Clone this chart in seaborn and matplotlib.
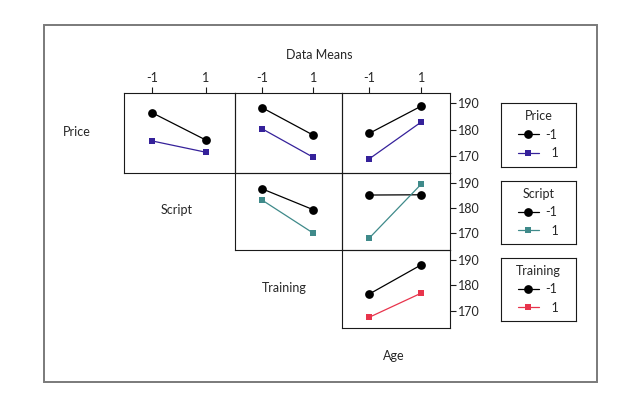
import matplotlib
matplotlib.use("Agg")
import matplotlib.pyplot as plt
import seaborn as sns
import pandas as pd
from matplotlib.lines import Line2D
from matplotlib.patches import Rectangle

sns.set_theme(style="white")
plt.rcParams['font.family'] = ['Lato', 'DejaVu Sans']
plt.rcParams['font.size'] = 9

# ---------------- data ----------------
factors = ["Price", "Script", "Training", "Age"]
levels = [-1, 1]
level_labels = ["-1", "1"]
yticks = [170, 180, 190]

# row factor at level -1 / 1, plotted across the column factor's levels (-1, 1)
price_lo_by_script = [186.4, 176.0]
price_hi_by_script = [175.6, 171.3]
price_lo_by_training = [188.4, 177.8]
price_hi_by_training = [180.3, 169.3]
price_lo_by_age = [178.5, 189.0]
price_hi_by_age = [168.7, 182.9]
script_lo_by_training = [187.7, 179.3]
script_hi_by_training = [183.2, 169.9]
script_lo_by_age = [185.2, 185.3]
script_hi_by_age = [167.9, 189.6]
training_lo_by_age = [176.6, 188.1]
training_hi_by_age = [167.5, 177.0]

panel_data = {
    ("Price", "Script"): (price_lo_by_script, price_hi_by_script),
    ("Price", "Training"): (price_lo_by_training, price_hi_by_training),
    ("Price", "Age"): (price_lo_by_age, price_hi_by_age),
    ("Script", "Training"): (script_lo_by_training, script_hi_by_training),
    ("Script", "Age"): (script_lo_by_age, script_hi_by_age),
    ("Training", "Age"): (training_lo_by_age, training_hi_by_age),
}

trace_colors = {"Price": "#35219A", "Script": "#3F8A8A", "Training": "#E8344C"}

# ---------------- layout ----------------
W, H = 640, 409
fig = plt.figure(figsize=(W / 100, H / 100), dpi=100)

def fx(x):
    return x / W

def fy(y):
    return 1 - y / H

col_edges = [124.3, 235.0, 341.7, 450.0]
row_edges = [93.3, 173.3, 250.0, 328.3]
xlim = (-2.05, 2.1)
ylim = (163.2, 193.9)
spine_col = "#1a1a1a"

# outer frame
fig.patches.append(Rectangle((fx(43.7), fy(382)), fx(596.5) - fx(43.7), fy(25.3) - fy(382),
                             transform=fig.transFigure, fill=False, edgecolor="#7a7a7a",
                             linewidth=1.4, zorder=0))

col_factors = factors[1:]
for r, row_f in enumerate(factors[:3]):
    for c, col_f in enumerate(col_factors):
        if c < r:
            continue
        x0, x1 = col_edges[c], col_edges[c + 1]
        y0, y1 = row_edges[r], row_edges[r + 1]
        ax = fig.add_axes([fx(x0), fy(y1), fx(x1) - fx(x0), fy(y0) - fy(y1)])
        lo, hi = panel_data[(row_f, col_f)]
        df_lo = pd.DataFrame({"x": levels, "mean": lo})
        df_hi = pd.DataFrame({"x": levels, "mean": hi})
        sns.lineplot(data=df_lo, x="x", y="mean", color="black", marker="o",
                     markersize=6.3, markeredgewidth=0, linewidth=0.9, ax=ax, legend=False)
        sns.lineplot(data=df_hi, x="x", y="mean", color=trace_colors[row_f], marker="s",
                     markersize=5, markeredgewidth=0, linewidth=0.9, ax=ax, legend=False)
        ax.set_xlim(*xlim)
        ax.set_ylim(*ylim)
        ax.set_xlabel("")
        ax.set_ylabel("")
        for s in ax.spines.values():
            s.set_visible(True)
            s.set_color(spine_col)
            s.set_linewidth(0.8)
        ax.set_facecolor("none")
        if r == 0:
            ax.xaxis.tick_top()
            ax.set_xticks(levels)
            ax.set_xticklabels(level_labels)
            ax.tick_params(axis="x", top=True, bottom=False, direction="out", length=4,
                           width=0.8, color=spine_col, labelsize=9, pad=3)
        else:
            ax.set_xticks([])
        if c == 2:
            ax.yaxis.tick_right()
            ax.set_yticks(yticks)
            ax.set_yticklabels([str(t) for t in yticks])
            ax.tick_params(axis="y", right=True, left=False, direction="out", length=4,
                           width=0.8, color=spine_col, labelsize=9, pad=2)
        else:
            ax.set_yticks([])

# text labels
fig.text(fx(319), fy(55), "Data Means", ha="center", va="center", fontsize=9)
fig.text(fx(77), fy(132), "Price", ha="center", va="center", fontsize=9)
fig.text(fx(177), fy(210), "Script", ha="center", va="center", fontsize=9)
fig.text(fx(284), fy(288), "Training", ha="center", va="center", fontsize=9)
fig.text(fx(394), fy(356), "Age", ha="center", va="center", fontsize=9)

# legends
legend_boxes = {"Price": (102.7, 166.7), "Script": (180.7, 244.3), "Training": (257.7, 321.0)}
for name, (t, b) in legend_boxes.items():
    lax = fig.add_axes([fx(501), fy(b), fx(575.7) - fx(501), fy(t) - fy(b)])
    lax.set_xticks([])
    lax.set_yticks([])
    lax.set_facecolor("none")
    for s in lax.spines.values():
        s.set_visible(True)
        s.set_color(spine_col)
        s.set_linewidth(0.8)
    handles = [
        Line2D([], [], color="black", marker="o", markersize=6.3, markeredgewidth=0, linewidth=0.9),
        Line2D([], [], color=trace_colors[name], marker="s", markersize=5, markeredgewidth=0, linewidth=0.9),
    ]
    leg = lax.legend(handles, ["-1", "  1"], title=name, loc="center", frameon=False,
                     fontsize=9, title_fontsize=9, handlelength=1.7, handletextpad=0.5,
                     labelspacing=0.5, borderpad=0.0, borderaxespad=0.0)

fig.savefig("out.png", dpi=100)
